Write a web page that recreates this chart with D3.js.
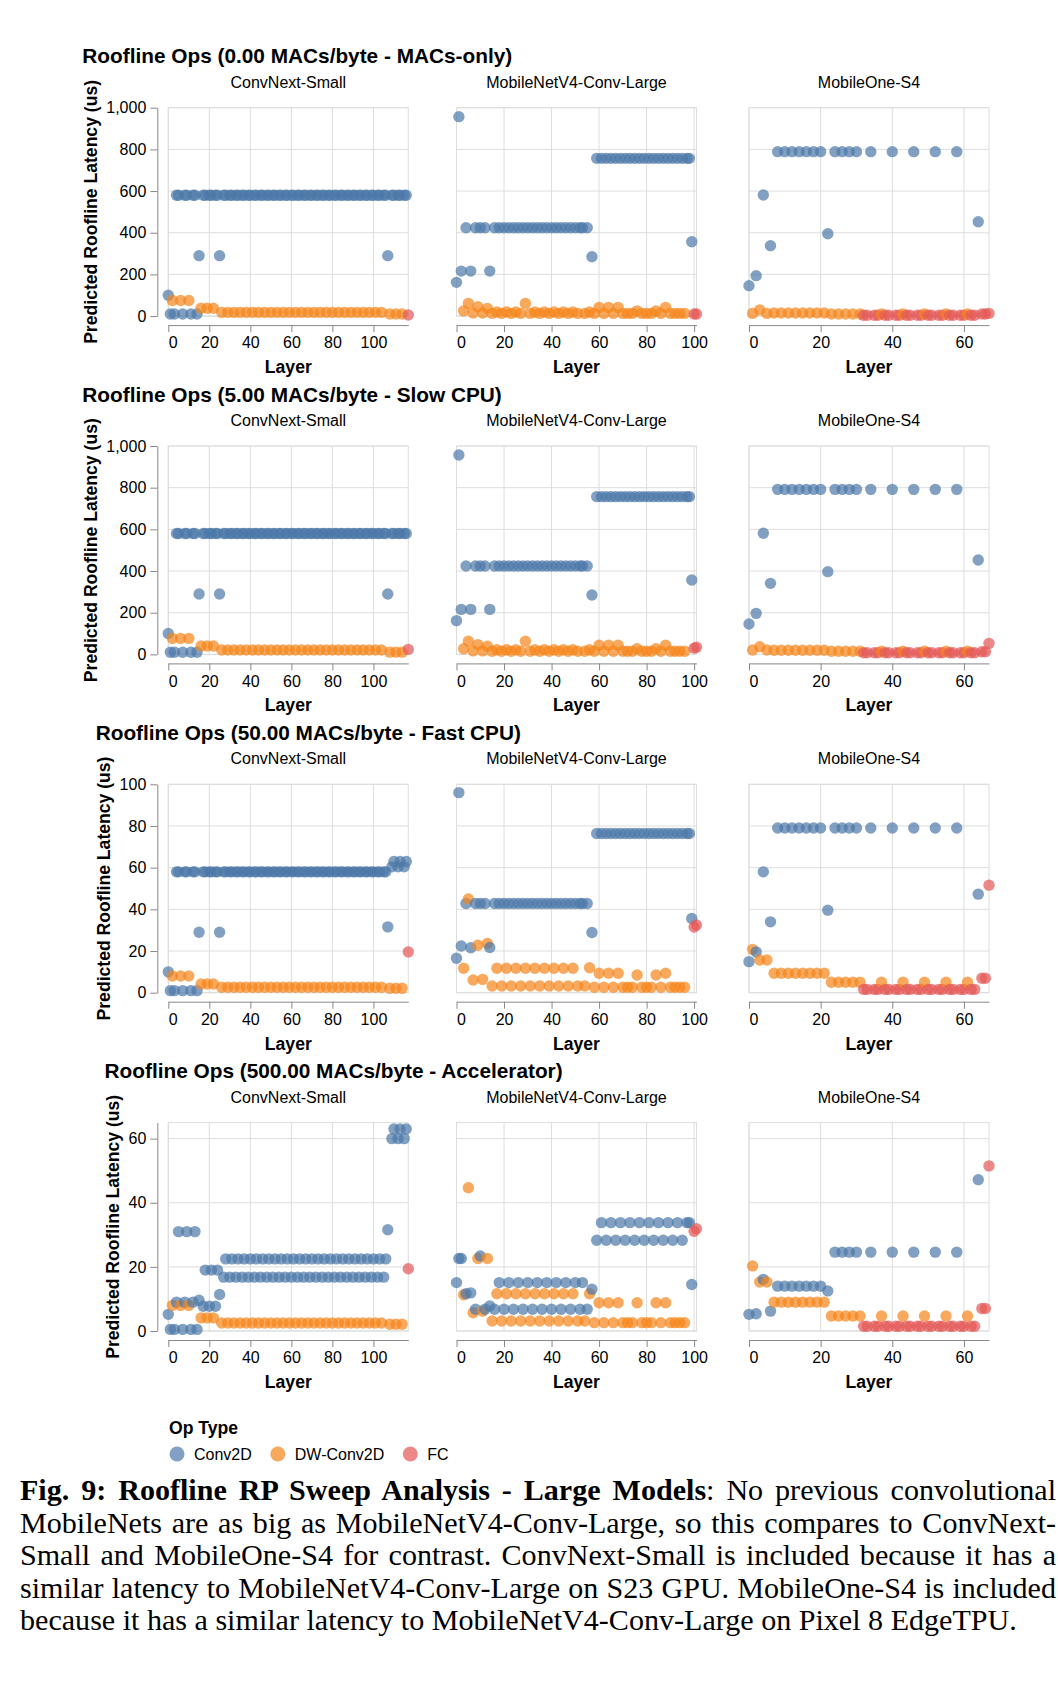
<!DOCTYPE html>
<html>
<head>
<meta charset="utf-8">
<script src="https://cdn.jsdelivr.net/npm/d3@7"></script>
<style>
  body { margin: 0; background: #fff; }
  svg { position: absolute; left: 0; top: 0; }
  .caption { position: absolute; left: 20px; width: 1036px; font-family: "Liberation Serif", "DejaVu Serif", serif; color: #000; white-space: nowrap; }
  .caption.just { text-align: justify; text-align-last: justify; white-space: normal; }
</style>
</head>
<body>
<script>
// ---- data ----
let sweepTitles = ['Roofline Ops (0.00 MACs/byte - MACs-only)', 'Roofline Ops (5.00 MACs/byte - Slow CPU)',
                   'Roofline Ops (50.00 MACs/byte - Fast CPU)', 'Roofline Ops (500.00 MACs/byte - Accelerator)'];
let modelNames = ['ConvNext-Small', 'MobileNetV4-Conv-Large', 'MobileOne-S4'];
let opTypes = ['Conv2D', 'DW-Conv2D', 'FC'];
let opCodes = ['C', 'D', 'F'];
let opColors = ['#4c78a8', '#f58518', '#e45756'];

let yMax = [1000, 1000, 100, 65];
let yTicks = [[0, 200, 400, 600, 800, 1000], [0, 200, 400, 600, 800, 1000], [0, 20, 40, 60, 80, 100], [0, 20, 40, 60]];
let xTicks = [[0, 20, 40, 60, 80, 100], [0, 20, 40, 60, 80, 100], [0, 20, 40, 60]];

// op type per layer (C = Conv2D, D = DW-Conv2D, F = FC)
let convnextOps = 'CCDCCCDCCCDCCCCC' + 'DCCDCCDCC' + 'C' +
  'DCCDCCDCCDCCDCCDCCDCCDCCDCC' + 'DCCDCCDCCDCCDCCDCCDCCDCCDCC' + 'DCCDCCDCCDCCDCCDCCDCCDCCDCC' +
  'C' + 'DCCDCCDCC' + 'F';
let mnv4Ops = 'CCCDCDCDCDCDCDC' + 'DCDCDCDCDCDCDCDCDCDCDCDCDCDCDCDCDCDC' + 'DCCDCDC' +
  'DCDCDCDCDCDCDCDCDCDCDCDCDCDCDCDCDCDCDCDC' + 'CCFF';
let mobileoneOps = 'C' + 'DCDCDCDCDCDCDCDCDCDCDCDCDCDCDC' + 'DFFCFFDFFCFFDFFCFFDFFCFFDFFCFFDFFCFF' + 'F';

// ConvNext-Small latency per layer (us)
let convnextMacsOnly = [
  100, 10, 75, 10, 580, 580, 75, 10, 580, 580, 75, 10, 580, 580, 10, 290,
  38, 580, 580, 38, 580, 580, 38, 580, 580,
  290,
  18, 580, 580, 18, 580, 580, 18, 580, 580, 18, 580, 580, 18, 580, 580, 18, 580, 580, 18, 580, 580, 18, 580, 580, 18, 580, 580,
  18, 580, 580, 18, 580, 580, 18, 580, 580, 18, 580, 580, 18, 580, 580, 18, 580, 580, 18, 580, 580, 18, 580, 580, 18, 580, 580,
  18, 580, 580, 18, 580, 580, 18, 580, 580, 18, 580, 580, 18, 580, 580, 18, 580, 580, 18, 580, 580, 18, 580, 580, 18, 580, 580,
  290,
  10, 580, 580, 10, 580, 580, 10, 580, 580,
  5];
let convnextSlowCpu = [
  100, 10, 77, 10, 580, 580, 77, 10, 580, 580, 77, 10, 580, 580, 10, 290,
  40, 580, 580, 40, 580, 580, 40, 580, 580,
  290,
  21, 580, 580, 21, 580, 580, 21, 580, 580, 21, 580, 580, 21, 580, 580, 21, 580, 580, 21, 580, 580, 21, 580, 580, 21, 580, 580,
  21, 580, 580, 21, 580, 580, 21, 580, 580, 21, 580, 580, 21, 580, 580, 21, 580, 580, 21, 580, 580, 21, 580, 580, 21, 580, 580,
  21, 580, 580, 21, 580, 580, 21, 580, 580, 21, 580, 580, 21, 580, 580, 21, 580, 580, 21, 580, 580, 21, 580, 580, 21, 580, 580,
  290,
  11, 580, 580, 11, 580, 580, 11, 580, 580,
  24];
let convnextFastCpu = [
  10, 1, 8, 1, 58, 58, 8, 1, 58, 58, 8, 1, 58, 58, 1, 29,
  4.2, 58, 58, 4.2, 58, 58, 4.2, 58, 58,
  29,
  2.6, 58, 58, 2.6, 58, 58, 2.6, 58, 58, 2.6, 58, 58, 2.6, 58, 58, 2.6, 58, 58, 2.6, 58, 58, 2.6, 58, 58, 2.6, 58, 58,
  2.6, 58, 58, 2.6, 58, 58, 2.6, 58, 58, 2.6, 58, 58, 2.6, 58, 58, 2.6, 58, 58, 2.6, 58, 58, 2.6, 58, 58, 2.6, 58, 58,
  2.6, 58, 58, 2.6, 58, 58, 2.6, 58, 58, 2.6, 58, 58, 2.6, 58, 58, 2.6, 58, 58, 2.6, 58, 58, 2.6, 58, 58, 2.6, 58, 58,
  31.6,
  2.1, 60.4, 63, 2.1, 60.4, 63, 2.1, 60.4, 63,
  19.6];
let convnextAccel = [
  5.2, 0.5, 8, 0.5, 9, 31, 8, 0.5, 9, 31, 8, 0.5, 9, 31, 0.5, 9.6,
  4.1, 7.7, 19, 4.1, 7.7, 19, 4.1, 7.7, 19,
  11.4,
  2.5, 16.8, 22.5, 2.5, 16.8, 22.5, 2.5, 16.8, 22.5, 2.5, 16.8, 22.5, 2.5, 16.8, 22.5, 2.5, 16.8, 22.5, 2.5, 16.8, 22.5, 2.5, 16.8, 22.5, 2.5, 16.8, 22.5,
  2.5, 16.8, 22.5, 2.5, 16.8, 22.5, 2.5, 16.8, 22.5, 2.5, 16.8, 22.5, 2.5, 16.8, 22.5, 2.5, 16.8, 22.5, 2.5, 16.8, 22.5, 2.5, 16.8, 22.5, 2.5, 16.8, 22.5,
  2.5, 16.8, 22.5, 2.5, 16.8, 22.5, 2.5, 16.8, 22.5, 2.5, 16.8, 22.5, 2.5, 16.8, 22.5, 2.5, 16.8, 22.5, 2.5, 16.8, 22.5, 2.5, 16.8, 22.5, 2.5, 16.8, 22.5,
  31.6,
  2.1, 60, 63, 2.1, 60, 63, 2.1, 60, 63,
  19.4];

// MobileNetV4-Conv-Large latency per layer (us)
let mnv4MacsOnly = [
  162, 957, 216, 25, 424, 61, 216, 15, 424, 45, 424, 15, 424, 37, 216,
  13, 424, 20, 424, 13, 424, 20, 424, 13, 424, 20, 424, 13, 424, 61, 424, 13, 424, 20, 424,
  13, 424, 20, 424, 13, 424, 20, 424, 13, 424, 20, 424, 13, 424, 20, 424,
  13, 424, 424, 13, 424, 20, 285,
  13, 757, 42, 757, 13, 757, 42, 757, 13, 757, 42, 757, 13, 757, 13, 757, 13, 757, 25, 757,
  13, 757, 13, 757, 13, 757, 25, 757, 13, 757, 42, 757, 13, 757, 13, 757, 13, 757, 13, 757,
  757, 357, 10, 10];
let mnv4SlowCpu = [
  162, 957, 216, 27, 424, 63, 216, 17, 424, 47, 424, 17, 424, 39, 216,
  15, 424, 22, 424, 15, 424, 22, 424, 15, 424, 22, 424, 15, 424, 63, 424, 15, 424, 22, 424,
  15, 424, 22, 424, 15, 424, 22, 424, 15, 424, 22, 424, 15, 424, 22, 424,
  15, 424, 424, 15, 424, 22, 285,
  15, 757, 44, 757, 15, 757, 44, 757, 15, 757, 44, 757, 15, 757, 15, 757, 15, 757, 27, 757,
  15, 757, 15, 757, 15, 757, 27, 757, 15, 757, 44, 757, 15, 757, 15, 757, 15, 757, 15, 757,
  757, 357, 30, 35];
let mnv4FastCpu = [
  16.5, 96, 22.4, 11.7, 42.8, 45, 21.6, 6.1, 42.8, 22.8, 42.8, 6.4, 42.8, 23.6, 21.7,
  3.2, 42.8, 11.7, 42.8, 3.2, 42.8, 11.7, 42.8, 3.2, 42.8, 11.7, 42.8, 3.2, 42.8, 11.7, 42.8, 3.2, 42.8, 11.7, 42.8,
  3.2, 42.8, 11.7, 42.8, 3.2, 42.8, 11.7, 42.8, 3.2, 42.8, 11.7, 42.8, 3.2, 42.8, 11.7, 42.8,
  3.2, 42.8, 42.8, 3.2, 42.8, 12, 28.9,
  2.6, 76.4, 9.3, 76.4, 2.6, 76.4, 9.3, 76.4, 2.6, 76.4, 9.3, 76.4, 2.6, 76.4, 2.6, 76.4, 2.6, 76.4, 8.5, 76.4,
  2.6, 76.4, 2.6, 76.4, 2.6, 76.4, 8.5, 76.4, 2.6, 76.4, 9.3, 76.4, 2.6, 76.4, 2.6, 76.4, 2.6, 76.4, 2.6, 76.4,
  76.4, 35.6, 31.5, 32.5];
let mnv4Accel = [
  15.1, 22.6, 22.6, 11.3, 11.6, 44.7, 11.9, 5.7, 6.8, 22.6, 23.4, 6.2, 6.8, 22.6, 7.8,
  3.1, 6.8, 11.6, 15.1, 3.1, 6.8, 11.6, 15.1, 3.1, 6.8, 11.6, 15.1, 3.1, 6.8, 11.6, 15.1, 3.1, 6.8, 11.6, 15.1,
  3.1, 6.8, 11.6, 15.1, 3.1, 6.8, 11.6, 15.1, 3.1, 6.8, 11.6, 15.1, 3.1, 6.8, 11.6, 15.1,
  3.1, 6.8, 15.1, 3.1, 6.8, 11.6, 13,
  2.6, 28.3, 8.8, 33.8, 2.6, 28.3, 8.8, 33.8, 2.6, 28.3, 8.8, 33.8, 2.6, 28.3, 2.6, 33.8, 2.6, 28.3, 8.8, 33.8,
  2.6, 28.3, 2.6, 33.8, 2.6, 28.3, 8.8, 33.8, 2.6, 28.3, 8.8, 33.8, 2.6, 28.3, 2.6, 33.8, 2.6, 28.3, 2.6, 33.8,
  33.8, 14.5, 31.1, 31.9];

// MobileOne-S4 latency per layer (us)
let mobileoneMacsOnly = [
  146,
  13, 194, 30, 581, 13, 338,
  15, 789, 15, 789, 15, 789, 15, 789, 15, 789, 15, 789, 15, 789, 15, 395,
  10, 789, 10, 789, 10, 789, 10, 789,
  10, 4, 4, 789, 4, 4, 10, 4, 4, 789, 4, 4, 10, 4, 4, 789, 4, 4, 10, 4, 4, 789, 4, 4, 10, 4, 4, 789, 4, 4,
  10, 4, 4, 453, 10, 10,
  13];
let mobileoneSlowCpu = [
  146,
  21, 197, 37, 581, 21, 341,
  20, 792, 20, 792, 20, 792, 20, 792, 20, 792, 20, 792, 20, 792, 20, 397,
  15, 792, 15, 792, 15, 792, 15, 792,
  15, 8, 8, 792, 8, 8, 15, 8, 8, 792, 8, 8, 15, 8, 8, 792, 8, 8, 15, 8, 8, 792, 8, 8, 15, 8, 8, 792, 8, 8,
  15, 8, 8, 453, 13, 13,
  53];
let mobileoneFastCpu = [
  14.9,
  20.8, 19.6, 15.7, 58, 15.7, 34,
  9.3, 79, 9.3, 79, 9.3, 79, 9.3, 79, 9.3, 79, 9.3, 79, 9.3, 79, 9.3, 39.6,
  5, 79, 5, 79, 5, 79, 5, 79,
  5, 1.6, 1.6, 79, 1.6, 1.6, 5, 1.6, 1.6, 79, 1.6, 1.6, 5, 1.6, 1.6, 79, 1.6, 1.6, 5, 1.6, 1.6, 79, 1.6, 1.6, 5, 1.6, 1.6, 79, 1.6, 1.6,
  5, 1.6, 1.6, 47.3, 6.9, 6.9,
  51.6];
let mobileoneAccel = [
  5.2,
  20.3, 5.4, 15.3, 16.1, 15.3, 6.2,
  9, 14, 9, 14, 9, 14, 9, 14, 9, 14, 9, 14, 9, 14, 9, 12.5,
  4.7, 24.6, 4.7, 24.6, 4.7, 24.6, 4.7, 24.6,
  4.7, 1.5, 1.5, 24.6, 1.5, 1.5, 4.7, 1.5, 1.5, 24.6, 1.5, 1.5, 4.7, 1.5, 1.5, 24.6, 1.5, 1.5, 4.7, 1.5, 1.5, 24.6, 1.5, 1.5, 4.7, 1.5, 1.5, 24.6, 1.5, 1.5,
  4.7, 1.5, 1.5, 47.2, 7, 7,
  51.5];

let captionBold = 'Fig. 9: Roofline RP Sweep Analysis - Large Models';
let captionLines = [
  ': No previous convolutional',
  'MobileNets are as big as MobileNetV4-Conv-Large, so this compares to ConvNext-',
  'Small and MobileOne-S4 for contrast. ConvNext-Small is included because it has a',
  'similar latency to MobileNetV4-Conv-Large on S23 GPU. MobileOne-S4 is included',
  'because it has a similar latency to MobileNetV4-Conv-Large on Pixel 8 EdgeTPU.'
];

// ---- layout ----
let modelOps = [convnextOps, mnv4Ops, mobileoneOps];
let modelLat = [
  [convnextMacsOnly, convnextSlowCpu, convnextFastCpu, convnextAccel],
  [mnv4MacsOnly, mnv4SlowCpu, mnv4FastCpu, mnv4Accel],
  [mobileoneMacsOnly, mobileoneSlowCpu, mobileoneFastCpu, mobileoneAccel]
];

let font = '"Liberation Sans", Helvetica, Arial, sans-serif';
let panelLeft = [168.3, 456.5, 749];
let panelWidth = 240;
let plotHeight = 208.4;
let firstTop = 107.7;
let rowStep = 338.3;
let pointR = 5.7;

let svg = d3.select('body').append('svg')
    .attr('width', 1058)
    .attr('height', 1701)
    .style('font-family', font);

let colorScale = d3.scaleOrdinal().domain(opCodes).range(opColors);

for (let r = 0; r < sweepTitles.length; r++) {
    let top = firstTop + r * rowStep;
    let bottom = top + plotHeight;
    let yScale = d3.scaleLinear().domain([0, yMax[r]]).range([bottom, top]);
    let row = svg.append('g').attr('class', 'row' + r);

    for (let c = 0; c < modelNames.length; c++) {
        let ops = modelOps[c];
        let lat = modelLat[c][r];
        let points = lat.map((v, i) => ({layer: i, value: v, op: ops[i]}));
        let left = panelLeft[c], right = left + panelWidth;
        let xScale = d3.scaleLinear().domain([0, ops.length - 1]).range([left, right]);
        let panel = row.append('g');

        // grid
        panel.append('g').selectAll('line').data(xTicks[c]).join('line')
            .attr('x1', d => xScale(d)).attr('x2', d => xScale(d))
            .attr('y1', top).attr('y2', bottom)
            .attr('stroke', '#ddd');
        panel.append('g').selectAll('line').data(yTicks[r]).join('line')
            .attr('x1', left).attr('x2', right)
            .attr('y1', d => yScale(d)).attr('y2', d => yScale(d))
            .attr('stroke', '#ddd');
        panel.append('rect')
            .attr('x', left).attr('y', top)
            .attr('width', panelWidth).attr('height', plotHeight)
            .attr('fill', 'none').attr('stroke', '#ddd');

        // points
        panel.append('g').selectAll('circle').data(points).join('circle')
            .attr('cx', d => xScale(d.layer))
            .attr('cy', d => yScale(d.value))
            .attr('r', pointR)
            .attr('fill', d => colorScale(d.op))
            .attr('fill-opacity', 0.7);

        // x axis (first / last labels flush with the range ends)
        let xDom = xScale.domain();
        let xAxis = panel.append('g')
            .attr('transform', `translate(0, ${bottom + 9})`)
            .call(d3.axisBottom(xScale).tickValues(xTicks[c]).tickSize(7).tickPadding(5).tickSizeOuter(0));
        xAxis.selectAll('path, line').attr('stroke', '#888');
        xAxis.selectAll('text')
            .attr('font-size', 16).attr('font-family', font).attr('fill', '#000')
            .attr('text-anchor', d => d === xDom[0] ? 'start' : (d === xDom[1] ? 'end' : 'middle'));

        panel.append('text')
            .attr('x', (left + right) / 2)
            .attr('y', bottom + 51)
            .attr('dominant-baseline', 'central')
            .attr('text-anchor', 'middle')
            .attr('font-size', 17.6).attr('font-weight', 'bold')
            .text('Layer');

        // model header
        panel.append('text')
            .attr('x', (left + right) / 2)
            .attr('y', top - 25.5)
            .attr('dominant-baseline', 'central')
            .attr('text-anchor', 'middle')
            .attr('font-size', 16)
            .text(modelNames[c]);

        if (c === 0) {
            let yAxis = panel.append('g')
                .attr('transform', `translate(${left - 11}, 0)`)
                .call(d3.axisLeft(yScale).tickValues(yTicks[r]).tickSize(7).tickPadding(4).tickSizeOuter(0).tickFormat(d3.format(',')));
            yAxis.selectAll('path, line').attr('stroke', '#888');
            yAxis.selectAll('text').attr('font-size', 16).attr('font-family', font).attr('fill', '#000');

            let labelsLeft = d3.min(yAxis.selectAll('text').nodes(), n => n.getBBox().x) + left - 11;
            let titleX = labelsLeft - 15.4;
            panel.append('text')
                .attr('transform', `translate(${titleX}, ${(top + bottom) / 2}) rotate(-90)`)
                .attr('dominant-baseline', 'central')
                .attr('text-anchor', 'middle')
                .attr('font-size', 17.6).attr('font-weight', 'bold')
                .text('Predicted Roofline Latency (us)');

            row.append('text')
                .attr('x', titleX - 8.5)
                .attr('y', top - 52)
                .attr('dominant-baseline', 'central')
                .attr('font-size', 20.8).attr('font-weight', 'bold')
                .text(sweepTitles[r]);
        }
    }
}

// legend
let legend = svg.append('g');
legend.append('text')
    .attr('x', 169).attr('y', 1428)
    .attr('dominant-baseline', 'central')
    .attr('font-size', 17.6).attr('font-weight', 'bold')
    .text('Op Type');
let lx = 177;
opTypes.forEach((name, i) => {
    legend.append('circle')
        .attr('cx', lx).attr('cy', 1454).attr('r', 7.5)
        .attr('fill', opColors[i]).attr('fill-opacity', 0.7);
    let t = legend.append('text')
        .attr('x', lx + 17).attr('y', 1454)
        .attr('dominant-baseline', 'central')
        .attr('font-size', 16)
        .text(name);
    lx = lx + 17 + t.node().getComputedTextLength() + 26;
});

// caption (justified like the paper)
let probe = d3.select('body').append('span')
    .style('font-family', '"Liberation Serif", serif').style('font-size', '100px')
    .style('position', 'absolute').style('visibility', 'hidden').style('white-space', 'nowrap')
    .text(captionLines[4]);
let capSize = 997 / probe.node().getBoundingClientRect().width * 100;
probe.remove();

captionLines.forEach((line, i) => {
    let div = d3.select('body').append('div')
        .attr('class', i < 4 ? 'caption just' : 'caption')
        .style('top', (1490 + i * 32.5 - 16) + 'px')
        .style('font-size', capSize + 'px')
        .style('line-height', '32px');
    if (i === 0) {
        div.append('b').text(captionBold);
        div.append('span').text(line);
    } else {
        div.text(line);
    }
});
</script>
</body>
</html>
